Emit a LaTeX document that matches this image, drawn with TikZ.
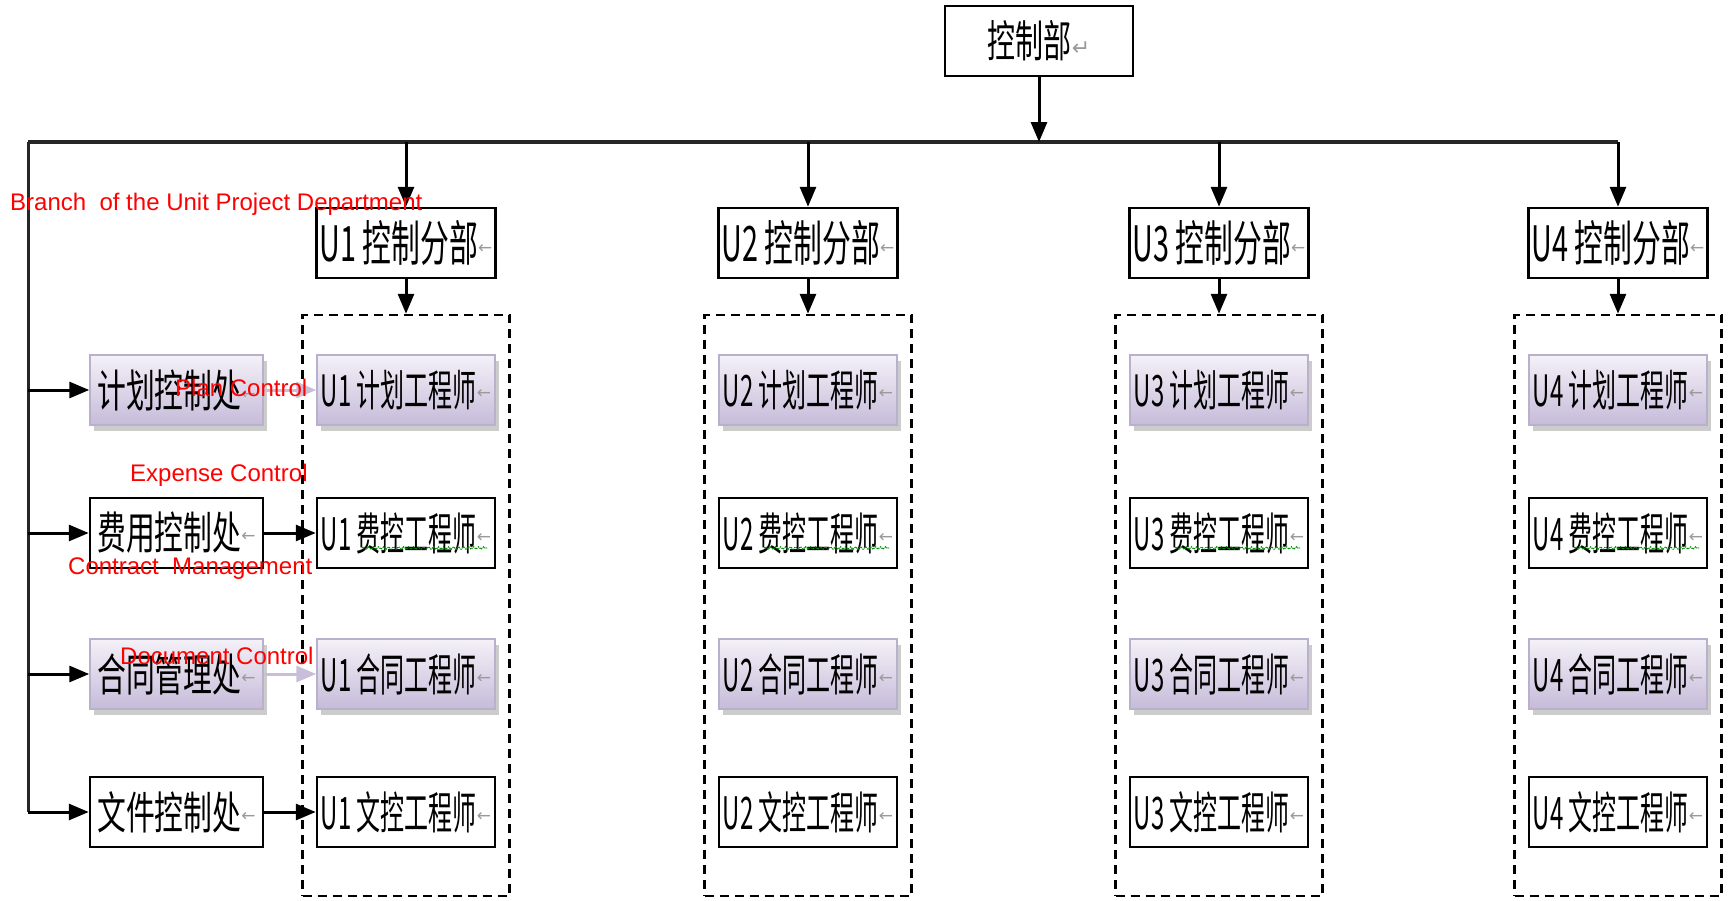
\documentclass[tikz,border=0pt]{standalone}
\usepackage{fontspec}
\setmainfont{Liberation Sans}
\newfontfamily\cjk{Noto Sans CJK SC}
\newfontfamily\dejavu{DejaVu Sans}
\usetikzlibrary{arrows.meta,shadows,decorations.pathmorphing}
\definecolor{lav}{HTML}{C8BEDA}
\definecolor{lavtop}{HTML}{F4F1F8}
\definecolor{lavbot}{HTML}{C6BBD9}
\definecolor{lavline}{HTML}{B9B1CB}
\definecolor{markgray}{HTML}{9A9A9A}
\newcommand\zh[3]{\scalebox{#1}[#2]{\cjk\fontsize{40}{40}\selectfont #3}}
\newcommand\cellmark{\raisebox{8pt}{\dejavu\color{markgray}\fontsize{17}{17}\selectfont ←}}
\newcommand\retmark{\raisebox{2pt}{\dejavu\color{markgray}\fontsize{22}{22}\selectfont ↵}}
\tikzset{
  plainbox/.style={draw=black, line width=2.5pt, fill=white, minimum height=70pt, inner sep=0pt},
  lavbox/.style={draw=lavline, line width=1.5pt, top color=lavtop, bottom color=lavbot, minimum height=70pt, inner sep=0pt,
     drop shadow={shadow xshift=4pt, shadow yshift=-6pt, fill=gray!50, opacity=0.8}},
  grp/.style={draw=black, line width=2.5pt, dash pattern=on 9pt off 6pt, minimum width=207pt, minimum height=581pt, inner sep=0pt},
  arr/.style={line width=3pt, -{Triangle[length=20pt,width=16pt]}},
  lavarr/.style={arr, draw=lav},
  lbl/.style={text=red, font=\fontsize{24}{24}\selectfont, inner sep=0pt, anchor=west},
  squig/.style={draw=green!55!black, line width=1.2pt, densely dotted, decorate, decoration={snake, amplitude=1.2pt, segment length=5pt}}
}
\begin{document}
\begin{tikzpicture}[x=1pt,y=-1pt]
\useasboundingbox (0,0) rectangle (1735,900);
% top
\node[plainbox, minimum width=188pt] (top) at (1039,41) {\zh{0.7}{1.1}{控制部}\retmark};
\coordinate (hl) at (28,142);
\coordinate (hr) at (1618,142);
\draw[line width=4pt, black!85] (hl) -- (hr);
\draw[arr] (top.south) -- (top.south |- hl);
% columns
\foreach \i/\x in {1/406,2/808,3/1219,4/1618}{
  \node[grp] (g\i) at (\x,605.5) {};
  \node[plainbox, minimum width=179pt] (u\i) at (\x,243) {\zh{0.72}{1.22}{U\i\ 控制分部}\cellmark};
  \draw[arr] (u\i.north |- hl) -- (u\i.north);
  \draw[arr] (u\i.south) -- (g\i.north);
  \node[lavbox, minimum width=178pt] (e\i1) at (\x,390) {\zh{0.6}{1.08}{U\i\ 计划工程师}\cellmark};
  \node[plainbox, minimum width=178pt] (e\i2) at (\x,533) {\zh{0.6}{1.12}{U\i\ 费控工程师}\cellmark};
  \node[lavbox, minimum width=178pt] (e\i3) at (\x,674) {\zh{0.6}{1.12}{U\i\ 合同工程师}\cellmark};
  \node[plainbox, minimum width=178pt] (e\i4) at (\x,812) {\zh{0.6}{1.12}{U\i\ 文控工程师}\cellmark};
  \draw[squig] ([xshift=-44pt,yshift=-15pt]e\i2.center) -- ([xshift=81pt,yshift=-15pt]e\i2.center);
}
% left offices
\node[lavbox, minimum width=173pt] (l1) at (176.5,390) {\zh{0.72}{1.12}{计划控制处}\cellmark};
\node[plainbox, minimum width=173pt] (l2) at (176.5,533) {\zh{0.72}{1.12}{费用控制处}\cellmark};
\node[lavbox, minimum width=173pt] (l3) at (176.5,674) {\zh{0.72}{1.12}{合同管理处}\cellmark};
\node[plainbox, minimum width=173pt] (l4) at (176.5,812) {\zh{0.72}{1.12}{文件控制处}\cellmark};
\draw[line width=3pt, black!85] (hl) -- (hl |- l4.west);
\foreach \j in {1,2,3,4}{
  \draw[arr] (hl |- l\j.west) -- (l\j.west);
}
\draw[lavarr] (l1.east) -- (e11.west);
\draw[arr] (l2.east) -- (e12.west);
\draw[lavarr] (l3.east) -- (e13.west);
\draw[arr] (l4.east) -- (e14.west);
% red labels
\node[lbl] (t1) at (10,204) {Branch\ \ of the Unit Project Department};
\node[lbl] (t2) at (175,388) {Plan Control};
\node[lbl] (t3) at (130,475) {Expense Control};
\node[lbl] (t4) at (68,569) {Contract\ \ Management};
\node[lbl] (t5) at (120,656) {Document Control};
\end{tikzpicture}
\end{document}
